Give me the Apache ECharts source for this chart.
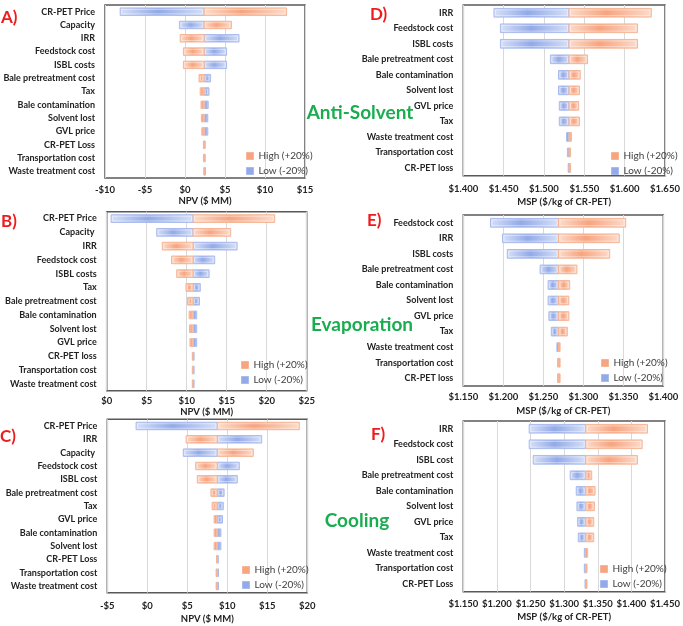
<!DOCTYPE html>
<html><head><meta charset="utf-8">
<script src="https://cdn.jsdelivr.net/npm/echarts/dist/echarts.min.js"></script>
<style>html,body{margin:0;padding:0;background:#fff}#c{width:683px;height:626px}</style>
</head><body><div id="c"></div><script>
// ---------- DATA ----------
const catsA = ['CR-PET Price','Capacity','IRR','Feedstock cost','ISBL costs','Bale pretreatment cost','Tax','Bale contamination','Solvent lost','GVL price','CR-PET Loss','Transportation cost','Waste treatment cost'];
const baseA = 2.4;
const lowA  = [-8.1, -0.7, 6.75, 5.2, 5.2, 3.2, 3.0, 2.9, 2.85, 2.85, 2.5, 2.5, 2.55];
const highA = [12.7, 5.8, -0.6, -0.2, -0.2, 1.75, 1.9, 2.0, 2.05, 2.1, 2.3, 2.3, 2.35];

const catsB = ['CR-PET Price','Capacity ','IRR','Feedstock cost','ISBL costs','Tax','Bale pretreatment cost','Bale contamination','Solvent lost','GVL price','CR-PET loss','Transportation cost','Waste treatment cost'];
const baseB = 10.8;
const lowB  = [0.55, 6.25, 16.3, 13.5, 12.8, 11.7, 11.6, 11.25, 11.25, 11.25, 10.9, 10.9, 10.85];
const highB = [21.0, 15.5, 6.95, 8.1, 8.75, 9.9, 10.1, 10.3, 10.35, 10.4, 10.7, 10.7, 10.7];

const catsC = ['CR-PET Price','IRR','Capacity ','Feedstock cost','ISBL cost','Bale pretreatment cost','Tax','GVL price','Bale contamination','Solvent lost','CR-PET Loss','Transportation cost','Waste treatment cost'];
const baseC = 8.75;
const lowC  = [-1.4, 14.3, 4.5, 11.5, 11.25, 9.6, 9.5, 9.4, 9.2, 9.2, 8.85, 8.9, 8.9];
const highC = [19.0, 4.85, 13.25, 6.05, 6.25, 7.95, 8.1, 8.35, 8.35, 8.35, 8.65, 8.6, 8.6];

const catsD = ['IRR','Feedstock cost','ISBL costs','Bale pretreatment cost','Bale contamination','Solvent lost','GVL price','Tax','Waste treatment cost','Transportation cost','CR-PET loss'];
const baseD = 1.531;
const lowD  = [1.438, 1.446, 1.446, 1.508, 1.518, 1.518, 1.519, 1.519, 1.528, 1.529, 1.530];
const highD = [1.633, 1.616, 1.616, 1.554, 1.545, 1.544, 1.543, 1.544, 1.534, 1.533, 1.533];

const catsE = ['Feedstock cost','IRR','ISBL costs','Bale pretreatment cost','Bale contamination','Solvent lost','GVL price','Tax','Waste treatment cost','Transportation cost','CR-PET loss'];
const baseE = 1.269;
const lowE  = [1.184, 1.199, 1.205, 1.246, 1.256, 1.256, 1.257, 1.260, 1.267, 1.268, 1.268];
const highE = [1.353, 1.345, 1.333, 1.292, 1.283, 1.282, 1.282, 1.280, 1.271, 1.271, 1.271];

const catsF = ['IRR','Feedstock cost','ISBL cost','Bale pretreatment cost','Bale contamination','Solvent lost','GVL price','Tax','Waste treatment cost','Transportation cost','CR-PET Loss'];
const baseF = 1.332;
const lowF  = [1.248, 1.248, 1.254, 1.309, 1.318, 1.319, 1.320, 1.321, 1.330, 1.330, 1.331];
const highF = [1.424, 1.416, 1.409, 1.341, 1.346, 1.345, 1.344, 1.344, 1.335, 1.334, 1.334];

const npvTicks = {A:[-10,15,5], B:[0,25,5], C:[-5,20,5]};
const mspTicks = {D:[1.40,1.65,0.05], E:[1.15,1.40,0.05], F:[1.15,1.45,0.05]};
const HIGH = 'High (+20%)', LOW = 'Low (-20%)';

// ---------- LAYOUT ----------
const FONT = "Lato,'Liberation Sans',sans-serif";
const npvFmt = v => (v < 0 ? '-$' + Math.abs(v) : '$' + v);
const mspFmt = v => '$' + v.toFixed(3);

const panels = [
  {cats:catsA, low:lowA, high:highA, base:baseA, t:npvTicks.A, fmt:npvFmt, name:'NPV ($ MM)',
   grid:{left:105, top:5, width:200, height:173}, lm:7, ng:18, leg:{left:246, top:151}},
  {cats:catsB, low:lowB, high:highB, base:baseB, t:npvTicks.B, fmt:npvFmt, name:'NPV ($ MM)',
   grid:{left:106.7, top:211.7, width:200, height:179}, lm:5, ng:16, leg:{left:241, top:360}},
  {cats:catsC, low:lowC, high:highC, base:baseC, t:npvTicks.C, fmt:npvFmt, name:'NPV ($ MM)',
   grid:{left:107.3, top:419.3, width:200, height:173.4}, lm:8, ng:21, leg:{left:242, top:565}},
  {cats:catsD, low:lowD, high:highD, base:baseD, t:mspTicks.D, fmt:mspFmt, name:'MSP ($/kg of CR-PET)',
   grid:{left:463.3, top:5, width:201.7, height:170.7}, lm:8, ng:21, leg:{left:611, top:151}},
  {cats:catsE, low:lowE, high:highE, base:baseE, t:mspTicks.E, fmt:mspFmt, name:'MSP ($/kg of CR-PET)',
   grid:{left:463.3, top:215, width:200, height:171}, lm:6, ng:20, leg:{left:601, top:358}},
  {cats:catsF, low:lowF, high:highF, base:baseF, t:mspTicks.F, fmt:mspFmt, name:'MSP ($/kg of CR-PET)',
   grid:{left:463.3, top:421, width:201.7, height:170.7}, lm:7, ng:20, leg:{left:600, top:564}}
];

const ORANGE = {c:'#f7a47f', light:'#fcdccc', border:'#f6b596'};
const BLUE   = {c:'#93aae8', light:'#d7e0f7', border:'#a9bbee'};

function makeRender(col){
  return function(params, api){
    const cat = api.value(0);
    const p0 = api.coord([api.value(1), cat]);
    const p1 = api.coord([api.value(2), cat]);
    const h = api.size([0, 1])[1] * 0.56;
    const x = Math.min(p0[0], p1[0]);
    const w = Math.max(Math.abs(p1[0] - p0[0]), 1);
    const y = p0[1] - h / 2;
    const grad = new echarts.graphic.LinearGradient(0, 0, 1, 0, [
      {offset:0, color:col.light},{offset:0.45, color:col.c},{offset:1, color:col.light}
    ]);
    const children = [{type:'rect', shape:{x:x, y:y, width:w, height:h},
      style:{fill:grad, stroke:col.border, lineWidth:1}}];
    if (w > 4) children.push({type:'rect', shape:{x:x+1.5, y:y+1.5, width:w-3, height:h-3},
      style:{fill:'none', stroke:'rgba(255,255,255,0.55)', lineWidth:0.8}});
    return {type:'group', children:children};
  };
}

const option = {
  animation:false,
  backgroundColor:'#fff',
  grid: panels.map(p => Object.assign({show:true, borderColor:'#595959', borderWidth:1.5, backgroundColor:'transparent',
                                       containLabel:false, outerBoundsMode:'none'}, p.grid)),
  xAxis: panels.map((p, i) => ({
    type:'value', gridIndex:i, min:p.t[0], max:p.t[1], interval:p.t[2],
    axisLine:{show:false}, axisTick:{show:false},
    splitLine:{show:true, lineStyle:{color:'#d9d9d9', width:1}},
    axisLabel:{formatter:p.fmt, fontSize:9.5, fontWeight:'bold', color:'#222', margin:p.lm, fontFamily:FONT,
               showMinLabel:true, showMaxLabel:true, hideOverlap:false},
    name:p.name, nameLocation:'middle', nameGap:p.ng,
    nameTextStyle:{fontSize:9.5, fontWeight:'bold', color:'#222', fontFamily:FONT}
  })),
  yAxis: panels.map((p, i) => ({
    type:'category', gridIndex:i, data:p.cats, inverse:true,
    axisLine:{show:false}, axisTick:{show:false}, splitLine:{show:false},
    axisLabel:{fontSize:9, fontWeight:'bold', color:'#222', margin:10, fontFamily:FONT, interval:0}
  })),
  legend: panels.map(p => ({
    orient:'vertical', left:p.leg.left, top:p.leg.top, itemWidth:7, itemHeight:7, itemGap:5,
    icon:'rect', selectedMode:false, padding:0,
    textStyle:{fontSize:10, color:'#404040', fontFamily:FONT},
    data:[{name:HIGH, itemStyle:{color:ORANGE.c, borderColor:ORANGE.border, borderWidth:1}},
          {name:LOW, itemStyle:{color:BLUE.c, borderColor:BLUE.border, borderWidth:1}}]
  })),
  series: [].concat(...panels.map((p, i) => [
    {type:'custom', name:LOW, xAxisIndex:i, yAxisIndex:i, renderItem:makeRender(BLUE),
     itemStyle:{color:BLUE.c}, encode:{x:[1,2], y:0},
     data:p.cats.map((c, j) => [j, p.base, p.low[j]])},
    {type:'custom', name:HIGH, xAxisIndex:i, yAxisIndex:i, renderItem:makeRender(ORANGE),
     itemStyle:{color:ORANGE.c}, encode:{x:[1,2], y:0},
     data:p.cats.map((c, j) => [j, p.base, p.high[j]])}
  ])),
  graphic: [
    {type:'text', x:1, y:18, style:{text:'A)', fill:'#ee1c1c', font:'bold 17px ' + FONT, textVerticalAlign:'middle'}},
    {type:'text', x:1, y:222, style:{text:'B)', fill:'#ee1c1c', font:'bold 17px ' + FONT, textVerticalAlign:'middle'}},
    {type:'text', x:0, y:437, style:{text:'C)', fill:'#ee1c1c', font:'bold 17px ' + FONT, textVerticalAlign:'middle'}},
    {type:'text', x:370, y:15, style:{text:'D)', fill:'#ee1c1c', font:'bold 17px ' + FONT, textVerticalAlign:'middle'}},
    {type:'text', x:367, y:221, style:{text:'E)', fill:'#ee1c1c', font:'bold 17px ' + FONT, textVerticalAlign:'middle'}},
    {type:'text', x:371, y:435, style:{text:'F)', fill:'#ee1c1c', font:'bold 17px ' + FONT, textVerticalAlign:'middle'}},
    {type:'text', x:360, y:113, style:{text:'Anti-Solvent', fill:'#1aad4f', font:'bold 19px ' + FONT, textAlign:'center', textVerticalAlign:'middle'}},
    {type:'text', x:362, y:325, style:{text:'Evaporation', fill:'#1aad4f', font:'bold 19px ' + FONT, textAlign:'center', textVerticalAlign:'middle'}},
    {type:'text', x:357, y:521, style:{text:'Cooling', fill:'#1aad4f', font:'bold 19px ' + FONT, textAlign:'center', textVerticalAlign:'middle'}}
  ]
};
const chart = echarts.init(document.getElementById('c'), null, {renderer:'canvas'});
chart.setOption(option);
</script></body></html>
